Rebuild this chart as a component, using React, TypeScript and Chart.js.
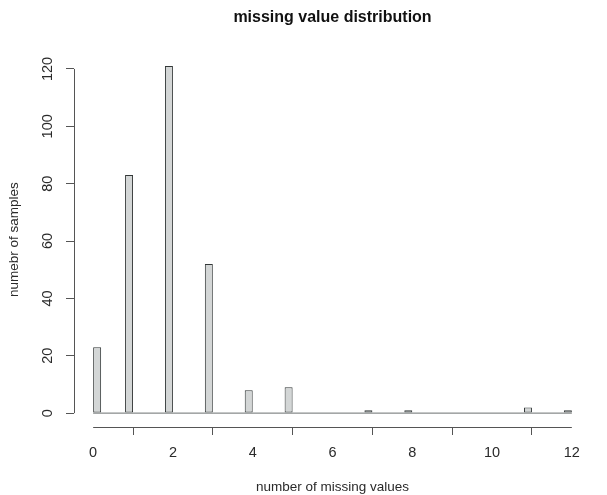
import React, { useEffect, useRef } from "react";
import { Chart, registerables } from "chart.js";

Chart.register(...registerables);

// Data
const missingValues = [0, 1, 2, 3, 4, 5, 6, 7, 8, 9, 10, 11, 12];
const sampleCounts = [23, 83, 121, 52, 8, 9, 0, 1, 1, 0, 0, 2, 1];
const xTickValues = [0, 2, 4, 6, 8, 10, 12];
const yTickValues = [0, 20, 40, 60, 80, 100, 120];
const binWidth = 0.2; // R hist break width (right-closed bins)

const chartTitle = "missing value distribution";
const xTitle = "number of missing values";
const yTitle = "numebr of samples";

const FONT = "'Liberation Sans', Arial, Helvetica, sans-serif";
const TEXT = "#2a2a2a";
const AXIS = "#555";

export default function App() {
  const ref = useRef<HTMLCanvasElement | null>(null);

  useEffect(() => {
    const canvas = ref.current;
    if (!canvas) return;

    // bin centres: value 0 -> [0, 0.2], value k -> (k-0.2, k]
    const barData = missingValues.map((v, i) => ({
      x: v === 0 ? v + binWidth / 2 : v - binWidth / 2,
      y: sampleCounts[i],
    }));
    const xMinData = Math.min(...missingValues);
    const xMaxData = Math.max(...missingValues);
    const yMaxData = Math.max(...sampleCounts);
    const xPad = (xMaxData - xMinData) * 0.04;
    const yPad = yMaxData * 0.04;

    // smallest spacing between bin centres, to make each bar one bin wide
    let minGap = Infinity;
    for (let i = 1; i < barData.length; i++) {
      minGap = Math.min(minGap, barData[i].x - barData[i - 1].x);
    }

    const rAxes = {
      id: "rAxes",
      afterDraw(chart: any) {
        const { ctx, chartArea, scales } = chart;
        const xs = scales.x;
        const ys = scales.y;
        ctx.save();
        ctx.strokeStyle = AXIS;
        ctx.lineWidth = 1;
        // x axis line (tick range only)
        const bx = Math.round(chartArea.bottom) + 0.5;
        ctx.beginPath();
        ctx.moveTo(xs.getPixelForValue(xTickValues[0]), bx);
        ctx.lineTo(xs.getPixelForValue(xTickValues[xTickValues.length - 1]), bx);
        ctx.stroke();
        // y axis line (tick range only)
        const ly = Math.round(chartArea.left) + 0.5;
        ctx.beginPath();
        ctx.moveTo(ly, ys.getPixelForValue(yTickValues[0]));
        ctx.lineTo(ly, ys.getPixelForValue(yTickValues[yTickValues.length - 1]));
        ctx.stroke();
        // y tick labels, parallel to axis
        ctx.fillStyle = TEXT;
        ctx.font = `14.5px ${FONT}`;
        ctx.textAlign = "center";
        ctx.textBaseline = "middle";
        yTickValues.forEach((v) => {
          const py = ys.getPixelForValue(v);
          ctx.save();
          ctx.translate(chartArea.left - 26, py);
          ctx.rotate(-Math.PI / 2);
          ctx.fillText(String(v), 0, 0);
          ctx.restore();
        });
        ctx.restore();
      },
    };

    const chart = new Chart(canvas, {
      type: "bar",
      data: {
        datasets: [
          {
            type: "bar",
            data: barData,
            backgroundColor: "#d3d6d6",
            borderColor: "#333838",
            borderWidth: 1,
            borderSkipped: false,
            categoryPercentage: 1,
            barPercentage: binWidth / minGap,
            order: 2,
          } as any,
          {
            type: "line",
            data: [
              { x: xMinData, y: 0 },
              { x: xMaxData, y: 0 },
            ],
            borderColor: "#6a7070",
            borderWidth: 1,
            pointRadius: 0,
            order: 1,
          } as any,
        ],
      },
      plugins: [rAxes],
      options: {
        animation: false,
        responsive: false,
        maintainAspectRatio: false,
        events: [],
        layout: { padding: { left: 0, right: 16, top: 0, bottom: 0 } },
        plugins: {
          legend: { display: false },
          tooltip: { enabled: false },
          title: {
            display: true,
            text: chartTitle,
            fullSize: false,
            color: "#111",
            font: { family: FONT, size: 16, weight: "bold" },
            padding: { top: 8, bottom: 25 },
          },
        },
        scales: {
          x: {
            type: "linear",
            min: xMinData - xPad,
            max: xMaxData + xPad,
            offset: false,
            afterBuildTicks: (s: any) => {
              s.ticks = xTickValues.map((v) => ({ value: v }));
            },
            afterFit: (s: any) => {
              s.height = 68;
            },
            border: { display: false },
            grid: {
              display: true,
              drawOnChartArea: false,
              drawTicks: true,
              tickLength: 8,
              color: AXIS,
            },
            ticks: {
              color: TEXT,
              font: { family: FONT, size: 14.5 },
              padding: 9,
              maxRotation: 0,
              autoSkip: false,
            },
            title: {
              display: true,
              text: xTitle,
              color: TEXT,
              font: { family: FONT, size: 13.5 },
              padding: { top: 0, bottom: 0 },
            },
          },
          y: {
            type: "linear",
            min: -yPad,
            max: yMaxData + yPad,
            afterBuildTicks: (s: any) => {
              s.ticks = yTickValues.map((v) => ({ value: v }));
            },
            afterFit: (s: any) => {
              s.width = 74;
            },
            border: { display: false },
            grid: {
              display: true,
              drawOnChartArea: false,
              drawTicks: true,
              tickLength: 8,
              color: AXIS,
            },
            ticks: { display: false },
            title: {
              display: true,
              text: yTitle,
              color: TEXT,
              font: { family: FONT, size: 13.5 },
              padding: { top: 6, bottom: 0 },
            },
          },
        },
      } as any,
    });

    return () => chart.destroy();
  }, []);

  return (
    <div style={{ position: "fixed", left: 0, top: 0, width: 607, height: 495, background: "#fff" }}>
      <canvas ref={ref} width={607} height={495} style={{ display: "block" }} />
    </div>
  );
}
